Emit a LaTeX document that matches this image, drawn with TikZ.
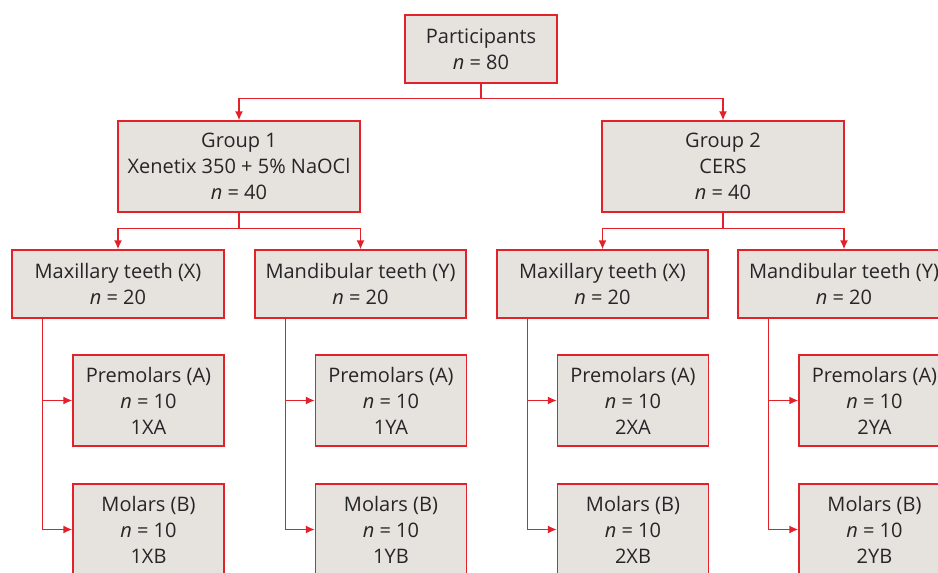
\documentclass[tikz,border=0pt]{standalone}
\usepackage{fontspec}
\setmainfont{Open Sans}
\usetikzlibrary{arrows.meta}
\definecolor{boxfill}{HTML}{E6E3DF}
\definecolor{boxred}{HTML}{E3212B}
\definecolor{txt}{HTML}{262626}
\begin{document}
\begin{tikzpicture}[x=1pt,y=-1pt,
  box/.style={draw=boxred,fill=boxfill,line width=1.4pt,text=txt,align=center,
    inner sep=0pt,font=\fontsize{20}{26}\selectfont},
  arr/.style={draw=boxred,line width=1.4pt,-{Latex[length=9pt,width=8pt]}},
  ln/.style={draw=boxred,line width=1.4pt}]
\useasboundingbox (0,0) rectangle (938,573);
\clip (0,0) rectangle (938,573);
\node[box,minimum width=152pt,minimum height=68pt] (P) at (481,49) {Participants\\\textit{n} = 80};
\node[box,minimum width=242pt,minimum height=91pt] (G1) at (239,166.5) {Group 1\\Xenetix 350 + 5\% NaOCl\\\textit{n} = 40};
\node[box,minimum width=242pt,minimum height=91pt] (G2) at (723,166.5) {Group 2\\CERS\\\textit{n} = 40};
\node[box,minimum width=212pt,minimum height=68pt] (X1) at (118,284) {Maxillary teeth (X)\\\textit{n} = 20};
\node[box,minimum width=211pt,minimum height=68pt] (Y1) at (360.5,284) {Mandibular teeth (Y)\\\textit{n} = 20};
\node[box,minimum width=211pt,minimum height=68pt] (X2) at (602.5,284) {Maxillary teeth (X)\\\textit{n} = 20};
\node[box,minimum width=212pt,minimum height=68pt] (Y2) at (844,284) {Mandibular teeth (Y)\\\textit{n} = 20};
\node[box,minimum width=151pt,minimum height=91pt] (AX1) at (148.5,400.5) {Premolars (A)\\\textit{n} = 10\\1XA};
\node[box,minimum width=151pt,minimum height=91pt] (BX1) at (148.5,529.5) {Molars (B)\\\textit{n} = 10\\1XB};
\node[box,minimum width=151pt,minimum height=91pt] (AY1) at (391,400.5) {Premolars (A)\\\textit{n} = 10\\1YA};
\node[box,minimum width=151pt,minimum height=91pt] (BY1) at (391,529.5) {Molars (B)\\\textit{n} = 10\\1YB};
\node[box,minimum width=151pt,minimum height=91pt] (AX2) at (633,400.5) {Premolars (A)\\\textit{n} = 10\\2XA};
\node[box,minimum width=151pt,minimum height=91pt] (BX2) at (633,529.5) {Molars (B)\\\textit{n} = 10\\2XB};
\node[box,minimum width=151pt,minimum height=91pt] (AY2) at (874.5,400.5) {Premolars (A)\\\textit{n} = 10\\2YA};
\node[box,minimum width=151pt,minimum height=91pt] (BY2) at (874.5,529.5) {Molars (B)\\\textit{n} = 10\\2YB};
% level 1
\draw[ln] (P.south) -- ++(0,15) coordinate (pj);
\draw[arr] (pj) -| (G1);
\draw[arr] (pj) -| (G2);
% level 2
\draw[ln] (G1.south) -- ++(0,16) coordinate (g1j);
\draw[arr] (g1j) -| (X1);
\draw[arr] (g1j) -| (Y1);
\draw[ln] (G2.south) -- ++(0,16) coordinate (g2j);
\draw[arr] (g2j) -| (X2);
\draw[arr] (g2j) -| (Y2);
% level 3
\foreach \p/\a/\b in {X1/AX1/BX1,Y1/AY1/BY1,X2/AX2/BX2,Y2/AY2/BY2}{
  \draw[arr] ([xshift=31pt]\p.south west) |- (\a.west);
  \draw[arr] ([xshift=31pt]\p.south west) |- (\b.west);
}
\end{tikzpicture}
\end{document}
